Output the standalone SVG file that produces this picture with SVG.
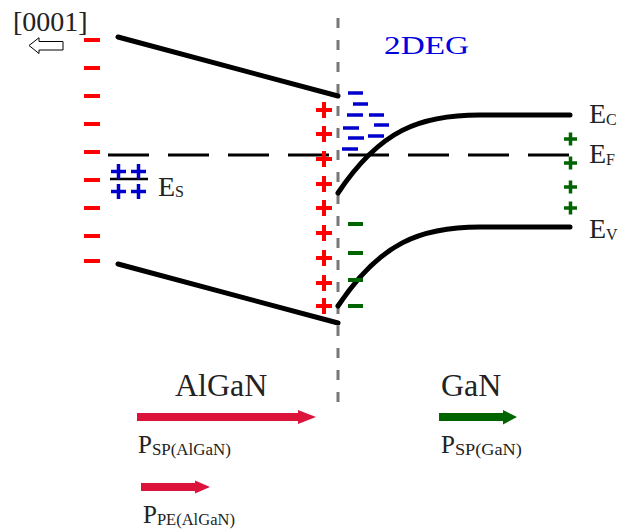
<svg xmlns="http://www.w3.org/2000/svg" width="619" height="531" viewBox="0 0 619 531">
<defs>
<style>
.t{font-family:"Liberation Serif","DejaVu Serif",serif;fill:#222}
.band{fill:none;stroke:#000;stroke-width:5;stroke-linecap:round}
.rm{stroke:#ff0000;stroke-width:4}
.rp{stroke:#ff0000;stroke-width:4}
.bm{stroke:#0000cc;stroke-width:3.5}
.bp{stroke:#0000cc;stroke-width:3.5}
.gm{stroke:#006400;stroke-width:4}
.gp{stroke:#006400;stroke-width:3.5}
</style>
</defs>
<rect width="619" height="531" fill="#fff"/>

<g id="interface">
<line x1="338" y1="18" x2="338" y2="402" stroke="#777" stroke-width="3" stroke-dasharray="10 12"/>
</g>

<g id="fermi-level">
<line x1="108" y1="155" x2="570" y2="155" stroke="#000" stroke-width="3" stroke-dasharray="41 19"/>
</g>

<g id="direction">
<text class="t" x="13" y="31" font-size="28">[0001]</text>
<polygon points="29,45.5 39,37.7 39,41.5 63,41.5 63,50 39,50 39,53.5" fill="#fff" stroke="#000" stroke-width="1"/>
</g>

<g id="algan-bands">
<line class="band" x1="118" y1="37" x2="338" y2="96"/>
<line class="band" x1="118" y1="264" x2="338" y2="323"/>
</g>

<g id="gan-bands">
<path class="band" d="M338,193 C380,130 420,115 480,115 L570,115"/>
<path class="band" d="M338,306 C380,243 420,227 480,227 L570,227"/>
</g>

<g id="surface-charge">
<g class="rm">
<line x1="84" y1="40" x2="100" y2="40"/>
<line x1="84" y1="68" x2="100" y2="68"/>
<line x1="84" y1="96" x2="100" y2="96"/>
<line x1="84" y1="124" x2="100" y2="124"/>
<line x1="84" y1="152" x2="100" y2="152"/>
<line x1="84" y1="180" x2="100" y2="180"/>
<line x1="84" y1="208" x2="100" y2="208"/>
<line x1="84" y1="236" x2="100" y2="236"/>
<line x1="84" y1="261" x2="100" y2="261"/>
</g>
</g>

<g id="surface-state">
<line x1="110" y1="179" x2="148" y2="179" stroke="#000" stroke-width="2.5"/>
<g class="bp">
<path d="M111,171.5 H126 M118.5,164 V179 M131,171.5 H146 M138.5,164 V179"/>
<path d="M111,191.5 H126 M118.5,184 V199 M131,191.5 H146 M138.5,184 V199"/>
</g>
<text class="t" x="158" y="196" font-size="28">E<tspan font-size="16" dy="1">S</tspan></text>
</g>

<g id="interface-charge">
<g class="rp">
<path d="M316,110 H332 M324,102 V118"/>
<path d="M316,134 H332 M324,126 V142"/>
<path d="M316,159 H332 M324,151 V167"/>
<path d="M316,184 H332 M324,176 V192"/>
<path d="M316,208 H332 M324,200 V216"/>
<path d="M316,233 H332 M324,225 V241"/>
<path d="M316,258 H332 M324,250 V266"/>
<path d="M316,283 H332 M324,275 V291"/>
<path d="M316,306 H332 M324,298 V314"/>
</g>
</g>

<g id="2deg">
<g class="bm">
<line x1="348" y1="93" x2="363" y2="93"/>
<line x1="353" y1="104" x2="368" y2="104"/>
<line x1="347" y1="115" x2="363" y2="115"/>
<line x1="369" y1="115" x2="384" y2="115"/>
<line x1="374" y1="125" x2="389" y2="125"/>
<line x1="343" y1="128" x2="359" y2="128"/>
<line x1="348" y1="138" x2="364" y2="138"/>
<line x1="368" y1="136" x2="384" y2="136"/>
<line x1="342" y1="149" x2="358" y2="149"/>
</g>
<text x="384" y="54" font-size="25" textLength="85" lengthAdjust="spacingAndGlyphs" font-family="Liberation Serif, serif" fill="#0000dd">2DEG</text>
</g>

<g id="gan-charge">
<g class="gm">
<line x1="348" y1="224" x2="363" y2="224"/>
<line x1="348" y1="253" x2="363" y2="253"/>
<line x1="348" y1="280" x2="363" y2="280"/>
<line x1="348" y1="306" x2="363" y2="306"/>
</g>
<g class="gp">
<path d="M564,139 H577 M570.5,132.5 V145.5"/>
<path d="M564,163 H577 M570.5,156.5 V169.5"/>
<path d="M564,187 H577 M570.5,180.5 V193.5"/>
<path d="M564,208 H577 M570.5,201.5 V214.5"/>
</g>
</g>

<g id="labels-right">
<text class="t" x="589" y="123" font-size="28">E<tspan font-size="16" dy="2">C</tspan></text>
<text class="t" x="589" y="163" font-size="28">E<tspan font-size="16" dy="2">F</tspan></text>
<text class="t" x="589" y="238" font-size="28">E<tspan font-size="16" dy="2">V</tspan></text>
</g>

<g id="algan-label">
<text class="t" x="175" y="396" font-size="32">AlGaN</text>
</g>
<g id="gan-label">
<text class="t" x="441" y="396" font-size="32">GaN</text>
</g>

<g id="p-sp-algan">
<polygon points="137,413 298,413 298,410 316,417 298,424 298,421 137,421" fill="#dc143c"/>
<text class="t" x="138" y="453" font-size="25">P<tspan font-size="17" dy="2" textLength="79" lengthAdjust="spacingAndGlyphs">SP(AlGaN)</tspan></text>
</g>

<g id="p-pe-algan">
<polygon points="141,483 195,483 195,480.5 210,487 195,493.5 195,491 141,491" fill="#dc143c"/>
<text class="t" x="143" y="523" font-size="25">P<tspan font-size="17" dy="2" textLength="78" lengthAdjust="spacingAndGlyphs">PE(AlGaN)</tspan></text>
</g>

<g id="p-sp-gan">
<polygon points="439,413 503,413 503,410 517,417 503,424.5 503,421 439,421" fill="#006400"/>
<text class="t" x="441" y="453" font-size="25">P<tspan font-size="17" dy="2" textLength="67" lengthAdjust="spacingAndGlyphs">SP(GaN)</tspan></text>
</g>
</svg>
